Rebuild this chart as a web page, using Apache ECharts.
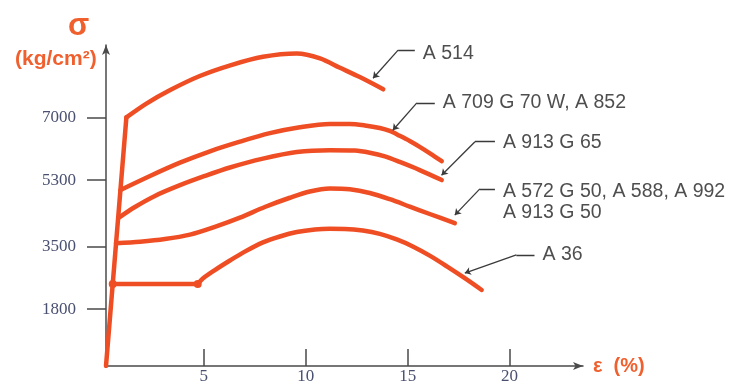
<!DOCTYPE html>
<html>
<head>
<meta charset="utf-8">
<script src="https://cdn.jsdelivr.net/npm/echarts@6/dist/echarts.min.js"></script>
<style>
  html, body { margin: 0; padding: 0; background: #fff; }
  #chart { width: 730px; height: 381px; }
</style>
</head>
<body>
<div id="chart"></div>
<script>
// Strain (%) vs stress (kg/cm²) for structural steel grades
const xTicks = [5, 10, 15, 20];
const yTicks = [1800, 3500, 5300, 7000];

const curveNames = ['A 514', 'A 709 G 70 W, A 852', 'A 913 G 65', 'A 572 G 50, A 588, A 992\nA 913 G 50', 'A 36'];

// elastic branch shared by all grades
const elastic = [[0.2, 260], [1.2, 7000]];

const a514 = [[1.2, 7000], [2.2, 7380], [3.35, 7740], [4.8, 8120], [6.3, 8410], [7.9, 8640], [9.55, 8730],
  [10.7, 8600], [11.65, 8350], [12.65, 8090], [13.8, 7760]];

const a709 = [[0.91, 5030], [2.36, 5410], [3.83, 5770], [5.3, 6080], [6.77, 6340], [8.24, 6570], [9.71, 6730],
  [11.18, 6820], [12.16, 6820], [12.9, 6780], [13.63, 6710], [14.12, 6630], [14.61, 6500], [15.1, 6360],
  [15.59, 6200], [16.13, 6010], [16.67, 5810]];

const a913g65 = [[0.8, 4270], [1.62, 4570], [2.6, 4870], [3.83, 5160], [5.05, 5410], [6.28, 5640], [7.9, 5880],
  [9.56, 6060], [11.18, 6110], [12.41, 6100], [13.14, 6040], [13.88, 5940], [14.61, 5790], [15.59, 5570],
  [16.67, 5300]];

const a572 = [[0.69, 3590], [1.87, 3630], [3.09, 3700], [4.32, 3820], [5.54, 4030], [6.77, 4280], [7.99, 4570],
  [9.22, 4820], [10.2, 4990], [11.18, 5070], [12.16, 5050], [13.14, 4950], [14.12, 4780], [15.1, 4580],
  [16.08, 4380], [17.31, 4130]];

// A 36: yield plateau, then strain hardening
const a36Plateau = [[0.53, 2480], [4.7, 2480]];
const a36 = [[4.7, 2480], [4.95, 2630], [5.54, 2860], [6.28, 3120], [7.01, 3360], [7.9, 3610], [8.73, 3770],
  [9.56, 3890], [10.45, 3960], [11.18, 3980], [11.92, 3975], [12.8, 3930], [13.63, 3840], [14.46, 3690],
  [15.25, 3500], [16.08, 3250], [16.92, 2960], [17.8, 2640], [18.63, 2320]];

// leader lines: point on curve -> elbow -> label anchor
const leaderTips = [[13.3, 8060], [14.27, 6650], [16.66, 5430], [17.31, 4350], [17.8, 2780]];
const leaderElbows = [[14.53, 8820], [15.45, 7390], [18.3, 6340], [18.54, 5060], [20.33, 3270]];
const leaderEnds = [[15.35, 8820], [16.33, 7390], [19.28, 6340], [19.28, 5060], [21.22, 3270]];
const labelOffsets = [[0, 3], [0, 0], [0, 1], [0, 13], [0, 0]];

const RED = '#EF4E24';
const AXIS = '#4a4a4a';
const TITLE = '#F0602E';
const LEADER = '#3a3a3a';

function curve(data, smooth) {
  return {
    type: 'line', data: data, smooth: smooth, symbol: 'none',
    lineStyle: { color: RED, width: 4.5, cap: 'round', join: 'round' },
    z: 3
  };
}

const chart = echarts.init(document.getElementById('chart'));
chart.setOption({
  animation: false,
  backgroundColor: '#fff',
  title: [
    { text: 'σ', left: 63, top: 6, textStyle: { color: TITLE, fontSize: 31, fontWeight: 'bold', fontFamily: 'Liberation Sans' } },
    { text: '(kg/cm²)', left: 10, top: 44, textStyle: { color: TITLE, fontSize: 21, fontWeight: 'bold', fontFamily: 'Liberation Sans' } }
  ],
  grid: { left: 106, right: 147, top: 45, bottom: 15, outerBoundsMode: 'none', containLabel: false },
  xAxis: {
    type: 'value', min: 0.2, max: 23.6,
    name: 'ε  (%)', nameLocation: 'end', nameGap: 10,
    nameTextStyle: { color: TITLE, fontSize: 20, fontWeight: 'bold', fontFamily: 'Liberation Sans' },
    axisLine: { show: true, lineStyle: { color: AXIS, width: 1.5 }, symbol: ['none', 'arrow'], symbolSize: [6, 10] },
    axisTick: { show: true, inside: true, length: 17, customValues: xTicks, lineStyle: { color: AXIS, width: 1.5 } },
    axisLabel: { customValues: xTicks, margin: 2, fontFamily: 'Liberation Serif', fontSize: 17, color: '#4a5070' },
    splitLine: { show: false }
  },
  yAxis: {
    type: 'value', min: 260, max: 8960,
    axisLine: { show: true, lineStyle: { color: AXIS, width: 1.5 }, symbol: ['none', 'arrow'], symbolSize: [6, 10] },
    axisTick: { show: true, inside: false, length: 19, customValues: yTicks, lineStyle: { color: AXIS, width: 1.5 } },
    axisLabel: { customValues: yTicks, margin: 30, fontFamily: 'Liberation Serif', fontSize: 17, color: '#4a5070',
      verticalAlign: 'middle', padding: [0, 0, 13, 0], formatter: function (v) { return String(v); } },
    splitLine: { show: false }
  },
  series: [
    curve(elastic, false),
    curve(a514, 0.3),
    curve(a709, 0.3),
    curve(a913g65, 0.3),
    curve(a572, 0.3),
    Object.assign(curve(a36Plateau, false), { symbol: 'circle', symbolSize: 8, showSymbol: true, itemStyle: { color: RED } }),
    curve(a36, 0.3),
    {
      // slanted part of each leader, arrowhead on the curve
      type: 'lines', coordinateSystem: 'cartesian2d',
      data: leaderTips.map(function (p, i) { return { coords: [p, leaderElbows[i]] }; }),
      symbol: ['arrow', 'none'], symbolSize: [6, 0],
      lineStyle: { color: LEADER, width: 1.3, opacity: 1, curveness: 0 },
      itemStyle: { color: LEADER },
      z: 4
    },
    {
      // horizontal part of each leader
      type: 'lines', coordinateSystem: 'cartesian2d',
      data: leaderElbows.map(function (p, i) { return { coords: [p, leaderEnds[i]] }; }),
      symbol: ['none', 'none'],
      lineStyle: { color: LEADER, width: 1.3, opacity: 1, curveness: 0 },
      z: 4
    },
    {
      type: 'scatter', symbolSize: 0, silent: true,
      data: leaderEnds.map(function (p, i) {
        return { name: curveNames[i], value: p, label: { offset: labelOffsets[i] } };
      }),
      label: {
        show: true, position: 'right', distance: 8, formatter: '{b}',
        color: '#222', fontSize: 19.5, fontFamily: 'Liberation Sans', lineHeight: 21, align: 'left'
      },
      z: 5
    }
  ]
});
</script>
</body>
</html>
